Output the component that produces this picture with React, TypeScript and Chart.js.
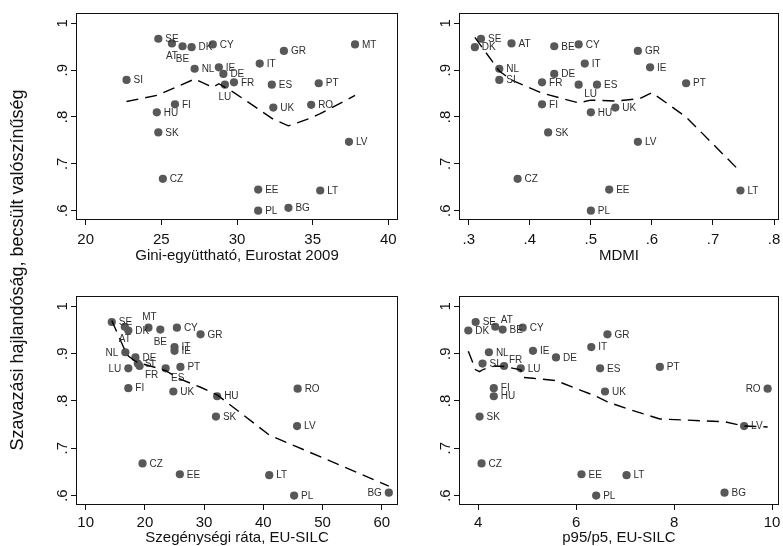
import React, { useEffect, useRef } from 'react';
import { Chart, registerables } from 'chart.js';

Chart.register(...registerables);

const W = 783;
const H = 546;
const FONT = '"Liberation Sans", Arial, Helvetica, sans-serif';

// ---------- data ----------
const countries = ['SE', 'DK', 'AT', 'BE', 'CY', 'MT', 'GR', 'IT', 'NL', 'IE', 'DE', 'SI', 'FR', 'PT', 'LU', 'ES', 'FI', 'RO', 'UK', 'HU', 'SK', 'LV', 'CZ', 'EE', 'LT', 'BG', 'PL'];
const probability = [0.967, 0.949, 0.957, 0.951, 0.955, 0.955, 0.941, 0.914, 0.903, 0.906, 0.892, 0.879, 0.874, 0.872, 0.869, 0.869, 0.827, 0.826, 0.820, 0.810, 0.767, 0.747, 0.668, 0.645, 0.643, 0.606, 0.600];
const gini = [24.8, 27.0, 25.7, 26.4, 28.4, 37.8, 33.1, 31.5, 27.2, 28.8, 29.1, 22.7, 29.8, 35.4, 29.2, 32.3, 25.9, 34.9, 32.4, 24.7, 24.8, 37.4, 25.1, 31.4, 35.5, 33.4, 31.4];
const mdmi = [0.32, 0.31, 0.37, 0.44, 0.48, null, 0.577, 0.49, 0.35, 0.597, 0.44, 0.35, 0.42, 0.656, 0.48, 0.51, 0.42, null, 0.54, 0.50, 0.43, 0.577, 0.38, 0.53, 0.745, null, 0.50];
const poverty = [14.4, 17.2, 16.6, 22.6, 25.4, 20.6, 29.4, 25.0, 16.7, 25.0, 18.4, 18.8, 19.1, 26.0, 17.2, 23.5, 17.2, 45.8, 24.8, 32.2, 32.0, 45.7, 19.6, 25.9, 41.0, 61.2, 45.2];
const p95p5 = [3.95, 3.80, 4.35, 4.50, 4.91, null, 6.64, 6.31, 4.22, 5.12, 5.59, 4.09, 4.53, 7.71, 4.87, 6.49, 4.32, 9.91, 6.59, 4.32, 4.03, 9.43, 4.07, 6.11, 7.03, 9.03, 6.41];

// lowess fits
const giniFitX = [22.7, 24.7, 27.2, 28.4, 28.8, 29.8, 31.4, 32.4, 33.4, 34.9, 35.5, 37.8];
const giniFitY = [0.833, 0.846, 0.881, 0.863, 0.871, 0.852, 0.817, 0.795, 0.781, 0.798, 0.807, 0.846];
const mdmiFitX = [0.31, 0.35, 0.37, 0.42, 0.48, 0.50, 0.54, 0.58, 0.60, 0.656, 0.745];
const mdmiFitY = [0.970, 0.898, 0.879, 0.851, 0.830, 0.836, 0.834, 0.839, 0.852, 0.800, 0.683];
const povertyFitX = [14.4, 16.6, 17.2, 18.4, 19.1, 20.6, 22.6, 23.5, 25.0, 26.0, 29.4, 32.2, 41.0, 45.5, 61.2];
const povertyFitY = [0.970, 0.908, 0.895, 0.884, 0.880, 0.875, 0.868, 0.864, 0.853, 0.846, 0.829, 0.813, 0.728, 0.704, 0.620];
const p95FitX = [3.80, 3.95, 4.03, 4.09, 4.22, 4.35, 4.53, 4.87, 4.91, 5.12, 5.59, 6.11, 6.41, 6.64, 7.03, 7.71, 9.03, 9.43, 9.91];
const p95FitY = [0.905, 0.866, 0.862, 0.866, 0.871, 0.874, 0.873, 0.866, 0.850, 0.848, 0.843, 0.822, 0.810, 0.798, 0.784, 0.762, 0.756, 0.747, 0.745];

// ticks
const yTicks = [0.6, 0.7, 0.8, 0.9, 1];
const yTickLabels = ['.6', '.7', '.8', '.9', '1'];
const giniTicks = [20, 25, 30, 35, 40];
const giniTickLabels = ['20', '25', '30', '35', '40'];
const mdmiTicks = [0.3, 0.4, 0.5, 0.6, 0.7, 0.8];
const mdmiTickLabels = ['.3', '.4', '.5', '.6', '.7', '.8'];
const povertyTicks = [10, 20, 30, 40, 50, 60];
const povertyTickLabels = ['10', '20', '30', '40', '50', '60'];
const p95Ticks = [4, 6, 8, 10];
const p95TickLabels = ['4', '6', '8', '10'];

const yAxisTitle = 'Szavazási hajlandóság, becsült valószínűség';

// ---------- layout / style ----------
type Pos = 'r' | 'l' | 'b' | 'a' | 'br' | 'ar';
const panels = [
  {
    xs: gini, fitX: giniFitX, fitY: giniFitY, ticks: giniTicks, tickLabels: giniTickLabels,
    title: 'Gini-együttható, Eurostat 2009', xMin: 19.36, xMax: 40.64,
    area: { l: 76, r: 398, t: 13, b: 220 }, tickOff: 20, titleOff: 36,
    labelPos: { AT: 'b', BE: 'b', LU: 'b' } as Record<string, Pos>, yTitle: true,
  },
  {
    xs: mdmi, fitX: mdmiFitX, fitY: mdmiFitY, ticks: mdmiTicks, tickLabels: mdmiTickLabels,
    title: 'MDMI', xMin: 0.284, xMax: 0.808,
    area: { l: 459, r: 781, t: 13, b: 220 }, tickOff: 20, titleOff: 36,
    labelPos: { LU: 'br' } as Record<string, Pos>, yTitle: false,
  },
  {
    xs: poverty, fitX: povertyFitX, fitY: povertyFitY, ticks: povertyTicks, tickLabels: povertyTickLabels,
    title: 'Szegénységi ráta, EU-SILC', xMin: 8.36, xMax: 62.75,
    area: { l: 76, r: 398, t: 296, b: 505 }, tickOff: 18, titleOff: 33,
    labelPos: { MT: 'a', BE: 'b', AT: 'b', NL: 'l', LU: 'l', FR: 'br', ES: 'br', BG: 'l' } as Record<string, Pos>, yTitle: false,
  },
  {
    xs: p95p5, fitX: p95FitX, fitY: p95FitY, ticks: p95Ticks, tickLabels: p95TickLabels,
    title: 'p95/p5, EU-SILC', xMin: 3.61, xMax: 10.14,
    area: { l: 459, r: 781, t: 296, b: 505 }, tickOff: 18, titleOff: 33,
    labelPos: { AT: 'ar', FR: 'ar', RO: 'l' } as Record<string, Pos>, yTitle: false,
  },
];

const Y_MIN = 0.580;
const Y_MAX = 1.022;

const decorPlugin = {
  id: 'decor',
  afterDatasetsDraw(chart: any, _args: any, opts: any) {
    const p = opts.panel;
    const codes: string[] = opts.codes;
    const { ctx, chartArea: a } = chart;
    const xs = chart.scales.x;
    const ys = chart.scales.y;
    ctx.save();
    // frame
    ctx.strokeStyle = '#111';
    ctx.lineWidth = 1;
    ctx.strokeRect(Math.round(a.left) + 0.5, Math.round(a.top) + 0.5, Math.round(a.right - a.left) - 1, Math.round(a.bottom - a.top) - 1);

    // point labels
    ctx.fillStyle = '#2e2e2e';
    ctx.font = `10px ${FONT}`;
    ctx.textBaseline = 'middle';
    const meta = chart.getDatasetMeta(1);
    meta.data.forEach((el: any, i: number) => {
      const code = codes[i];
      const pos: Pos = p.labelPos[code] || 'r';
      const x = el.x;
      const y = el.y;
      if (pos === 'r') { ctx.textAlign = 'left'; ctx.fillText(code, x + 7, y + 0.5); }
      else if (pos === 'l') { ctx.textAlign = 'right'; ctx.fillText(code, x - 7, y + 0.5); }
      else if (pos === 'b') { ctx.textAlign = 'center'; ctx.fillText(code, x, y + 12.5); }
      else if (pos === 'a') { ctx.textAlign = 'center'; ctx.fillText(code, x + 1, y - 10); }
      else if (pos === 'br') { ctx.textAlign = 'center'; ctx.fillText(code, x + 12, y + 9.5); }
      else if (pos === 'ar') { ctx.textAlign = 'center'; ctx.fillText(code, x + 11.5, y - 6); }
    });

    // axis tick labels
    ctx.fillStyle = '#111';
    ctx.font = `15px ${FONT}`;
    ctx.textAlign = 'center';
    ctx.textBaseline = 'middle';
    p.ticks.forEach((v: number, i: number) => {
      ctx.fillText(p.tickLabels[i], xs.getPixelForValue(v), a.bottom + p.tickOff);
    });
    yTicks.forEach((v, i) => {
      ctx.save();
      ctx.translate(a.left - 13, ys.getPixelForValue(v));
      ctx.rotate(-Math.PI / 2);
      ctx.fillText(yTickLabels[i], 0, 0);
      ctx.restore();
    });
    // x title
    ctx.fillText(p.title, (a.left + a.right) / 2, a.bottom + p.titleOff);
    // shared y title
    if (p.yTitle) {
      ctx.save();
      ctx.font = `18px ${FONT}`;
      ctx.translate(18, 270);
      ctx.rotate(-Math.PI / 2);
      ctx.fillText(yAxisTitle, 0, 0);
      ctx.restore();
    }
    ctx.restore();
  },
};

function axisCommon() {
  return {
    type: 'linear' as const,
    ticks: { display: false },
    grid: { display: true, drawOnChartArea: false, drawTicks: true, tickLength: 5, color: '#111', lineWidth: 1 },
    border: { display: false },
    title: { display: false },
  };
}

export default function App() {
  const refs = [useRef<HTMLCanvasElement>(null), useRef<HTMLCanvasElement>(null), useRef<HTMLCanvasElement>(null), useRef<HTMLCanvasElement>(null)];

  useEffect(() => {
    const charts: Chart[] = [];
    panels.forEach((p, idx) => {
      const canvas = refs[idx].current;
      if (!canvas) return;
      const pts: { x: number; y: number }[] = [];
      const codes: string[] = [];
      countries.forEach((c, i) => {
        const xv = p.xs[i];
        if (xv === null || xv === undefined) return;
        pts.push({ x: xv as number, y: probability[i] });
        codes.push(c);
      });
      const fit = p.fitX.map((x, i) => ({ x, y: p.fitY[i] }));
      const chart = new Chart(canvas, {
        type: 'scatter',
        data: {
          datasets: [
            {
              type: 'line',
              data: fit,
              borderColor: '#000',
              borderWidth: 1.4,
              borderDash: [12, 7],
              pointRadius: 0,
              fill: false,
              tension: 0,
              order: 0,
            } as any,
            {
              type: 'scatter',
              data: pts,
              pointRadius: 4.1,
              pointHoverRadius: 4.1,
              backgroundColor: '#585858',
              borderWidth: 0,
              order: 1,
            } as any,
          ],
        },
        options: {
          responsive: false,
          animation: false,
          devicePixelRatio: 1,
          events: [],
          layout: {
            padding: { left: p.area.l - 40, top: p.area.t, right: W - p.area.r, bottom: H - p.area.b - 10 },
          },
          plugins: {
            legend: { display: false },
            tooltip: { enabled: false },
            decor: { panel: p, codes },
          } as any,
          scales: {
            x: {
              ...axisCommon(),
              min: p.xMin,
              max: p.xMax,
              afterBuildTicks: (s: any) => { s.ticks = p.ticks.map((v) => ({ value: v })); },
              afterFit: (s: any) => { s.height = 10; },
            },
            y: {
              ...axisCommon(),
              min: Y_MIN,
              max: Y_MAX,
              afterBuildTicks: (s: any) => { s.ticks = yTicks.map((v) => ({ value: v })); },
              afterFit: (s: any) => { s.width = 40; },
            },
          } as any,
        },
        plugins: [decorPlugin],
      });
      charts.push(chart);
    });
    return () => charts.forEach((c) => c.destroy());
  }, []);

  return (
    <div style={{ position: 'fixed', left: 0, top: 0, width: W, height: H, background: '#fff', overflow: 'hidden' }}>
      {refs.map((r, i) => (
        <canvas key={i} ref={r} width={W} height={H} style={{ position: 'absolute', left: 0, top: 0, width: W, height: H }} />
      ))}
    </div>
  );
}
